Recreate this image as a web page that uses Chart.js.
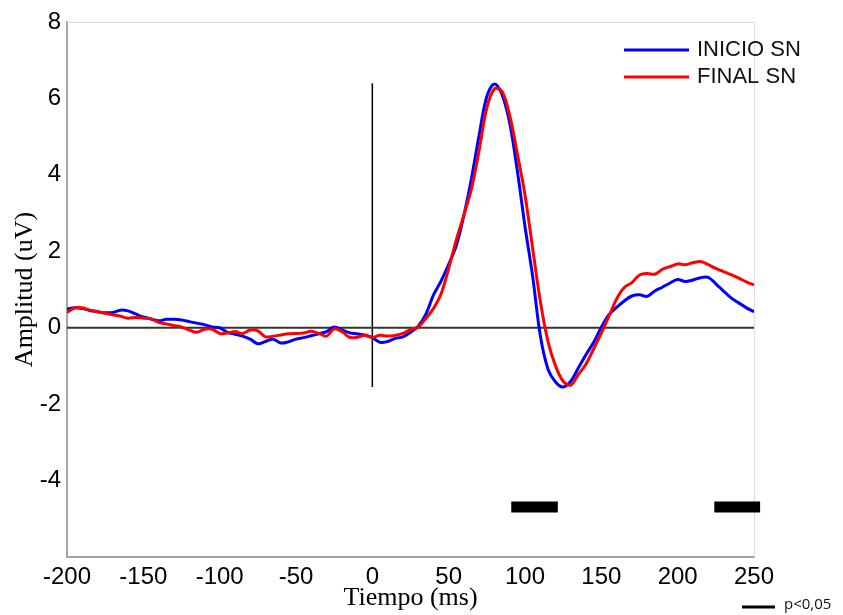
<!DOCTYPE html>
<html lang="es">
<head>
<meta charset="UTF-8">
<title>Amplitud vs Tiempo</title>
<script src="https://cdn.jsdelivr.net/npm/chart.js"></script>
<style>
    body { margin: 0; background: #fff; }
    .container { position: relative; width: 843px; height: 615px; }
</style>
</head>
<body>
<div class="container"><canvas id="erpChart"></canvas></div>
<script>
// tiempo en ms
const tiempo = [-200,-195,-190,-185,-180,-175,-170,-165,-160,-155,
    -150,-145,-140,-135,-130,-125,-120,-115,-110,-105,
    -100,-95,-90,-85,-80,-75,-70,-65,-60,-55,
    -50,-45,-40,-35,-30,-25,-20,-15,-10,-5,
    0,5,10,15,20,25,30,35,40,45,
    50,55,60,65,70,75,80,85,90,95,
    100,105,110,115,120,125,130,135,140,145,
    150,155,160,165,170,175,180,185,190,195,
    200,205,210,215,220,225,230,235,240,245,
    250];

const inicioSN = [0.49,0.52,0.50,0.45,0.42,0.39,0.40,0.46,0.44,0.36,
    0.28,0.23,0.18,0.22,0.22,0.20,0.16,0.12,0.08,0.02,
    0.00,-0.12,-0.17,-0.22,-0.30,-0.42,-0.36,-0.30,-0.40,-0.37,
    -0.30,-0.26,-0.21,-0.16,-0.10,0.02,-0.06,-0.13,-0.16,-0.19,
    -0.26,-0.38,-0.36,-0.28,-0.24,-0.12,0.04,0.35,0.85,1.22,
    1.66,2.15,2.95,3.92,5.05,6.05,6.38,6.10,5.35,4.10,
    2.65,1.35,-0.20,-1.08,-1.42,-1.55,-1.40,-1.05,-0.70,-0.38,
    0.01,0.34,0.53,0.70,0.83,0.86,0.82,0.96,1.06,1.17,
    1.26,1.21,1.25,1.31,1.32,1.15,0.96,0.78,0.65,0.52,
    0.42];

const finalSN = [0.40,0.52,0.52,0.46,0.42,0.38,0.34,0.30,0.25,0.27,
    0.25,0.23,0.14,0.10,0.06,0.02,-0.06,-0.12,-0.04,-0.04,
    -0.15,-0.14,-0.10,-0.15,-0.06,-0.08,-0.24,-0.22,-0.19,-0.16,
    -0.15,-0.14,-0.09,-0.15,-0.22,-0.03,-0.10,-0.25,-0.25,-0.20,
    -0.25,-0.20,-0.22,-0.20,-0.15,-0.05,0.02,0.24,0.50,0.88,
    1.55,2.30,2.95,3.65,4.65,5.75,6.25,6.18,5.55,4.55,
    3.47,2.08,0.70,-0.35,-1.00,-1.40,-1.50,-1.22,-0.95,-0.55,
    -0.14,0.30,0.75,1.05,1.18,1.38,1.42,1.40,1.53,1.60,
    1.67,1.65,1.70,1.73,1.65,1.55,1.47,1.39,1.30,1.20,
    1.12];

// tramos con p<0,05
const sigInicio = [91, 224];
const sigFin = [121.5, 254];
const sigNivel = -4.69;

// linea del estimulo (t = 0)
const estimulo = [-1.55, 6.4];

const yTicks = [8, 6, 4, 2, 0, -2, -4];

const pares = (ys) => tiempo.map((t, i) => ({ x: t, y: ys[i] }));

// marco gris claro, leyenda dentro del area y nota p<0,05
const extras = {
    id: 'extras',
    beforeDatasetsDraw(chart) {
        const { ctx, chartArea: a } = chart;
        ctx.save();
        ctx.strokeStyle = '#dcdcdc';
        ctx.lineWidth = 1;
        ctx.beginPath();
        ctx.moveTo(a.left, a.top + 0.5);
        ctx.lineTo(a.right + 0.5, a.top + 0.5);
        ctx.lineTo(a.right + 0.5, a.bottom);
        ctx.stroke();
        ctx.restore();
    },
    afterDraw(chart) {
        const { ctx, chartArea: a } = chart;
        ctx.save();
        const items = [chart.data.datasets[1], chart.data.datasets[0]];
        ctx.font = '22px "Liberation Sans", Arial, sans-serif';
        ctx.textBaseline = 'middle';
        items.forEach((ds, i) => {
            const y = a.top + 28 + i * 27;
            ctx.strokeStyle = ds.borderColor;
            ctx.lineWidth = 3;
            ctx.beginPath();
            ctx.moveTo(a.right - 130, y);
            ctx.lineTo(a.right - 65, y);
            ctx.stroke();
            ctx.fillStyle = '#111';
            ctx.fillText(ds.label, a.right - 57, y);
        });

        ctx.strokeStyle = '#000';
        ctx.lineWidth = 3;
        ctx.beginPath();
        ctx.moveTo(742, 607);
        ctx.lineTo(775, 607);
        ctx.stroke();
        ctx.font = '15px "Open Sans", sans-serif';
        ctx.fillStyle = '#111';
        ctx.fillText('p<0,05', 784, 605);
        ctx.restore();
    }
};

const ctx = document.getElementById('erpChart').getContext('2d');
const erpChart = new Chart(ctx, {
    type: 'line',
    data: {
        datasets: [
            {
                label: 'FINAL SN',
                data: pares(finalSN),
                borderColor: '#ff0000',
                borderWidth: 3,
                pointRadius: 0,
                tension: 0.35
            },
            {
                label: 'INICIO SN',
                data: pares(inicioSN),
                borderColor: '#0000ff',
                borderWidth: 3,
                pointRadius: 0,
                tension: 0.35
            },
            {
                label: 'cero',
                data: [{ x: tiempo[0], y: 0 }, { x: tiempo[tiempo.length - 1], y: 0 }],
                borderColor: '#333',
                borderWidth: 2,
                pointRadius: 0
            },
            {
                label: 'estimulo',
                data: [{ x: 0, y: estimulo[0] }, { x: 0, y: estimulo[1] }],
                borderColor: '#000',
                borderWidth: 1.5,
                pointRadius: 0
            },
            ...sigInicio.map((s, i) => ({
                label: 'p<0,05',
                data: [{ x: s, y: sigNivel }, { x: sigFin[i], y: sigNivel }],
                borderColor: '#000',
                borderWidth: 11,
                borderCapStyle: 'butt',
                pointRadius: 0,
                clip: false
            }))
        ]
    },
    plugins: [extras],
    options: {
        responsive: true,
        maintainAspectRatio: false,
        animation: false,
        layout: { padding: { top: 22, right: 89, bottom: 0, left: 0 } },
        plugins: {
            legend: { display: false },
            tooltip: { enabled: false }
        },
        scales: {
            x: {
                type: 'linear',
                min: -200,
                max: 250,
                afterFit(scale) { scale.height = 58; },
                ticks: {
                    stepSize: 50,
                    padding: 6,
                    color: '#000',
                    font: { family: '"Liberation Sans", Arial, sans-serif', size: 24 }
                },
                grid: { display: false, drawTicks: false },
                border: { color: '#a6a6a6', width: 2 },
                title: {
                    display: true,
                    text: 'Tiempo (ms)',
                    color: '#000',
                    font: { family: '"Liberation Serif", "Times New Roman", serif', size: 26 },
                    padding: { top: 0, bottom: 1 }
                }
            },
            y: {
                min: -6,
                max: 8,
                afterFit(scale) { scale.width = 67; },
                afterBuildTicks(scale) { scale.ticks = yTicks.map(v => ({ value: v })); },
                ticks: {
                    padding: 6,
                    color: '#000',
                    font: { family: '"Liberation Sans", Arial, sans-serif', size: 24 }
                },
                grid: { display: false, drawTicks: false },
                border: { color: '#a6a6a6', width: 2 },
                title: {
                    display: true,
                    text: 'Amplitud (uV)',
                    color: '#000',
                    font: { family: '"Liberation Serif", "Times New Roman", serif', size: 26 },
                    padding: { top: 10, bottom: 0 }
                }
            }
        }
    }
});
</script>
</body>
</html>
